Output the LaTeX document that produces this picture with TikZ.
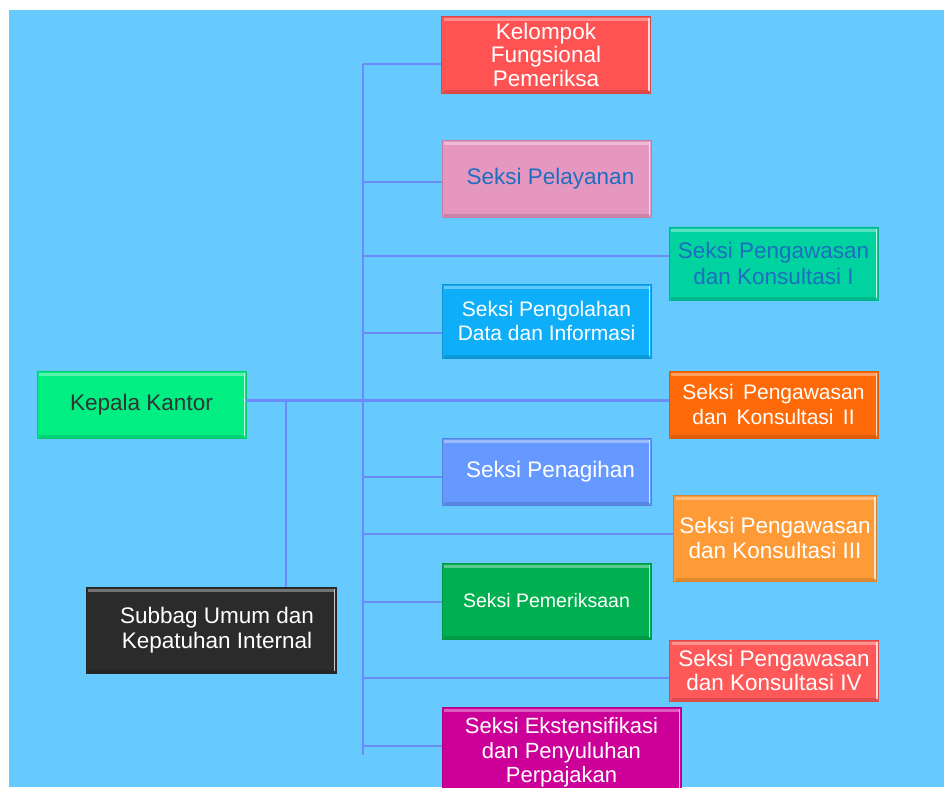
\documentclass[tikz,border=0pt]{standalone}
\usepackage{fontspec}
\setmainfont{Liberation Sans}
\definecolor{skybg}{HTML}{66CAFF}
\definecolor{linkblue}{HTML}{6B8CF8}
\definecolor{kfpred}{HTML}{FF5252}
\definecolor{pelpink}{HTML}{E697C0}
\definecolor{konteal}{HTML}{00D3A0}
\definecolor{pdiblue}{HTML}{0EAEF8}
\definecolor{kepgreen}{HTML}{00EE82}
\definecolor{konorange}{HTML}{FF6A08}
\definecolor{penblue}{HTML}{6699FF}
\definecolor{konlight}{HTML}{FF9B36}
\definecolor{pemgreen}{HTML}{00B050}
\definecolor{konred}{HTML}{FF5858}
\definecolor{ekspink}{HTML}{CC0099}
\definecolor{subdark}{HTML}{2B2B2B}
\definecolor{textblue}{HTML}{1E6EC0}
\usetikzlibrary{positioning}
\tikzset{
  bevel/.style={path picture={
      \draw[white,opacity=.35,line width=3pt] ([xshift=2pt,yshift=-3pt]path picture bounding box.north west) -- ([xshift=-2pt,yshift=-3pt]path picture bounding box.north east);
      \draw[white,opacity=.75,line width=1.5pt] ([xshift=-1.5pt,yshift=-2pt]path picture bounding box.north east) -- ([xshift=-1.5pt,yshift=2pt]path picture bounding box.south east);
      \draw[black,opacity=.12,line width=3pt] ([xshift=2pt,yshift=2pt]path picture bounding box.south west) -- ([xshift=-2pt,yshift=2pt]path picture bounding box.south east);
  }},
  unit/.style={draw=#1!85!black,line width=.6pt,fill=#1,bevel,minimum width=209pt,
    align=center,inner sep=0pt,text=white,font=\fontsize{22.5}{24.5}\selectfont},
  link/.style={draw=linkblue,line width=2.6pt}
}
\begin{document}
\begin{tikzpicture}[x=1pt,y=-1pt]
    \clip (0,0) rectangle (944,787);
    \fill[white] (0,0) rectangle (944,787);
    \fill[skybg] (9,10) rectangle (944,787);

    \node[unit=kfpred,minimum height=77pt,font=\fontsize{22.5}{23.5}\selectfont] (kfp) at (546,54.5) {Kelompok\\Fungsional\\Pemeriksa};
    \node[unit=pelpink,minimum height=77pt,text=textblue] (pel) at (546.5,178.5) {\hspace{8pt}Seksi Pelayanan};
    \node[unit=konteal,minimum height=73pt,text=textblue,font=\fontsize{22.5}{26}\selectfont] (kon1) at (773.5,263.5) {Seksi Pengawasan\\dan Konsultasi I};
    \node[unit=pdiblue,minimum height=74pt,font=\fontsize{21}{24}\selectfont] (pdi) at (546.5,321) {Seksi Pengolahan\\Data dan Informasi};
    \node[unit=kepgreen,minimum height=67pt,text=black!80] (kep) at (141.5,404.5) {Kepala Kantor};
    \node[unit=konorange,minimum height=67pt,font=\fontsize{21}{25}\selectfont] (kon2) at (773.5,404.5) {Seksi\, Pengawasan\\dan\, Konsultasi\, II};
    \node[unit=penblue,minimum height=67pt] (pen) at (546.5,471.5) {\hspace{8pt}Seksi Penagihan};
    \node[unit=konlight,minimum height=86pt,minimum width=203pt,font=\fontsize{22.5}{25.5}\selectfont] (kon3) at (775,538) {Seksi Pengawasan\\dan Konsultasi III};
    \node[unit=pemgreen,minimum height=76pt,font=\fontsize{19.5}{22}\selectfont] (pem) at (546.5,601) {Seksi Pemeriksaan};
    \node[unit=konred,minimum height=61pt] (kon4) at (774,670.5) {Seksi Pengawasan\\dan Konsultasi IV};
    \node[unit=ekspink,minimum height=90pt,minimum width=239pt,font=\fontsize{22}{24.5}\selectfont,anchor=north] (eks) at (561.5,707) {Seksi Ekstensifikasi\\dan Penyuluhan\\Perpajakan};
    \node[unit=subdark,minimum height=86pt,minimum width=250pt] (sub) at (211,630) {\hspace{12pt}Subbag Umum dan\\\hspace{12pt}Kepatuhan Internal};

    % trunk and branches
    \coordinate (trunktop) at (363,64);
    \coordinate (trunkbot) at (363,755);
    \draw[link] (trunktop) -- (trunkbot);
    \draw[link] (trunktop) -- (trunktop -| kfp.west);
    \coordinate (brpel) at (363,182);
    \draw[link] (brpel) -- (brpel -| pel.west);
    \coordinate (brkon1) at (363,256);
    \draw[link] (brkon1) -- (brkon1 -| kon1.west);
    \coordinate (brpdi) at (363,333);
    \draw[link] (brpdi) -- (brpdi -| pdi.west);
    \coordinate (brpen) at (363,477);
    \draw[link] (brpen) -- (brpen -| pen.west);
    \coordinate (brkon3) at (363,534);
    \draw[link] (brkon3) -- (brkon3 -| kon3.west);
    \coordinate (brpem) at (363,602);
    \draw[link] (brpem) -- (brpem -| pem.west);
    \coordinate (brkon4) at (363,678);
    \draw[link] (brkon4) -- (brkon4 -| kon4.west);
    \coordinate (breks) at (363,746);
    \draw[link] (breks) -- (breks -| eks.west);

    % head of office
    \draw[link] ([yshift=4pt]kep.east) -- ([yshift=4pt]kon2.west);
    \coordinate (subjoin) at (286,400);
    \draw[link] (subjoin) -- (subjoin |- sub.north);
\end{tikzpicture}
\end{document}
